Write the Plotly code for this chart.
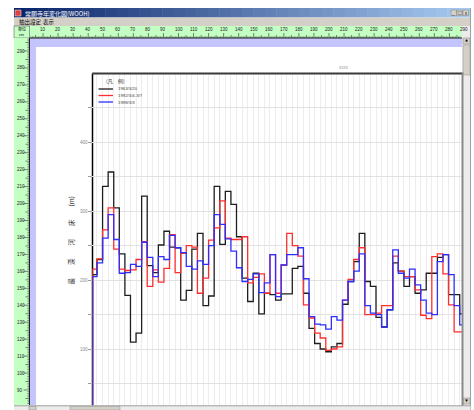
import plotly.graph_objects as go

W, H = 474, 410

# ---------------- data ----------------
series_names = ["1963/3/20", "1992/3/4-3/7", "1998/3/3"]
series_colors = ["#1e1e1e", "#ff2e2e", "#2e2eff"]

black_vals = [208, 230, 336, 357, 305, 238, 178, 110, 123, 322, 221, 211, 251, 271, 248, 247,
              171, 185, 245, 268, 163, 177, 336, 252, 329, 310, 263, 203, 169, 210, 151, 181,
              179, 171, 180, 180, 217, 220, 181, 130, 108, 100, 96, 103, 108, 165, 198, 227,
              268, 198, 191, 146, 132, 157, 225, 213, 191, 205, 181, 186, 210, 210, 233, 237,
              179, 179, 151]
red_vals = [216, 231, 273, 305, 245, 216, 214, 215, 230, 256, 191, 215, 197, 217, 266, 211,
            239, 250, 248, 181, 203, 258, 276, 315, 261, 259, 259, 263, 196, 204, 209, 181,
            237, 181, 222, 268, 250, 235, 164, 145, 123, 116, 98, 100, 103, 171, 201, 230,
            247, 150, 150, 152, 163, 163, 235, 213, 205, 205, 186, 149, 144, 234, 238, 209,
            164, 125, 125]
blue_vals = [205, 225, 261, 295, 259, 210, 211, 223, 220, 255, 233, 205, 234, 230, 265, 247,
             240, 220, 216, 228, 223, 250, 295, 281, 260, 242, 218, 198, 201, 209, 182, 196,
             237, 176, 222, 237, 237, 247, 202, 147, 136, 135, 129, 147, 142, 171, 198, 213,
             238, 163, 152, 150, 132, 157, 244, 210, 203, 216, 193, 171, 152, 150, 227, 237,
             208, 163, 135]
all_series = [black_vals, red_vals, blue_vals]

x_start = -0.8           # first (partial) section start
x_axis_min = -0.84       # left edge of the visible axis
x_end = 65.5             # right edge of the visible (clipped) axis
y_min, y_max = 18, 500
y_tick_vals = [50, 100, 150, 200, 250, 300, 350, 400, 450]
y_tick_text = ["", "100", "", "200", "", "300", "", "400", ""]

top_ruler_labels = list(range(10, 300, 10))
left_ruler_labels = list(range(290, 80, -10))

title_text = "常願寺年変化図(WOOH)"
menu_items = ["抽出設定", "表示"]
y_title = "最　　深　　河　　床　　(m)"
legend_head = "(凡　例)"
chart_title = "xxxx"


# ---------------- helpers ----------------
def px(x):
    return x / W


def py(y):
    return 1 - y / H


shapes = []
annotations = []


def rect(x0, y0, x1, y1, fill, line=None, lw=0, layer="below"):
    shapes.append(dict(type="rect", xref="paper", yref="paper",
                       x0=px(x0), x1=px(x1), y0=py(y0), y1=py(y1),
                       fillcolor=fill, line=dict(width=lw, color=line or fill),
                       layer=layer))


def hline(x0, x1, y, color, w=1, layer="above"):
    shapes.append(dict(type="line", xref="paper", yref="paper",
                       x0=px(x0), x1=px(x1), y0=py(y), y1=py(y),
                       line=dict(color=color, width=w), layer=layer))


def vline(x, y0, y1, color, w=1, layer="above"):
    shapes.append(dict(type="line", xref="paper", yref="paper",
                       x0=px(x), x1=px(x), y0=py(y0), y1=py(y1),
                       line=dict(color=color, width=w), layer=layer))


def text(x, y, s, size=5, color="#000", xanchor="left", font="Noto Sans CJK JP", angle=0):
    annotations.append(dict(xref="paper", yref="paper", x=px(x), y=py(y), text=s,
                            showarrow=False, xanchor=xanchor, yanchor="middle",
                            textangle=angle,
                            font=dict(size=size, color=color, family=font)))


# ---------------- window chrome ----------------
n = 40
c0 = (10, 36, 106)
c1 = (166, 202, 240)
tb_x0, tb_x1 = 14, 470
for i in range(n):
    t = i / (n - 1)
    col = "rgb(%d,%d,%d)" % tuple(int(c0[k] + (c1[k] - c0[k]) * t) for k in range(3))
    xa = tb_x0 + (tb_x1 - tb_x0) * i / n
    xb = tb_x0 + (tb_x1 - tb_x0) * (i + 1) / n + 0.5
    rect(xa, 8, xb, 17.5, col)
rect(15, 10, 21, 16, "#e04040", line="#ffffff", lw=0.5)
text(23, 13, title_text, size=6, color="#ffffff")
for i, s in enumerate(["_", "□", "x"]):
    bx = 451 + i * 6
    rect(bx, 10, bx + 5.5, 15.5, "#d4d0c8", line="#808080", lw=0.5)
    text(bx + 2.75, 12.8, s, size=4, color="#000", xanchor="center")

# menu bar
rect(14, 17.5, 470, 26, "#d4d0c8")
text(17, 21.5, menu_items[0], size=5.5, color="#000")
text(41, 21.5, menu_items[1], size=5.5, color="#000")

# top ruler
rect(14, 26, 462, 38, "#c4ffc4")
rect(14, 26, 29.5, 38, "#c4ffc4", line="#606060", lw=0.6)
text(21.5, 29, "単位", size=4, color="#000", xanchor="center")
text(21.5, 34.5, "cm", size=3.5, color="#000", xanchor="center")
hline(29.5, 462, 38, "#202020", 1)

path = ""
for v in range(0, 292):
    x = 28 + 1.505 * v
    if x < 30 or x > 461:
        continue
    L = 5 if v % 10 == 0 else (3 if v % 5 == 0 else 1.5)
    path += "M%.5f,%.5f L%.5f,%.5f " % (px(x), py(38), px(x), py(38 - L))
shapes.append(dict(type="path", xref="paper", yref="paper", path=path,
                   line=dict(color="#303030", width=0.6), layer="above"))
for v in top_ruler_labels:
    x = 28 + 1.505 * v
    text(x, 29.5, str(v), size=4.5, color="#222", xanchor="center", font="Liberation Sans")

# left ruler
rect(14, 38, 29.5, 405, "#c4ffc4")
vline(29.5, 38, 405, "#202020", 1)
path = ""
for v in range(80, 300):
    y = 51 + (290 - v) * 1.695
    if y < 39 or y > 404:
        continue
    L = 6 if v % 10 == 0 else (4 if v % 5 == 0 else 2)
    path += "M%.5f,%.5f L%.5f,%.5f " % (px(29.5), py(y), px(29.5 - L), py(y))
shapes.append(dict(type="path", xref="paper", yref="paper", path=path,
                   line=dict(color="#303030", width=0.6), layer="above"))
for v in left_ruler_labels:
    y = 51 + (290 - v) * 1.695
    if 40 < y < 403:
        text(15.3, y, str(v), size=4.5, color="#222", font="Liberation Sans")

# lavender margins and white page
rect(29.5, 38, 462, 47, "#c4c4ff")
rect(29.5, 38, 36, 405, "#c4c4ff")
rect(36, 47, 462, 405, "#ffffff")

# ---------------- chart ----------------
PL, PR, PT, PB = 92.3, 462.5, 73.5, 405.5

# left axis line (below traces so the blue start line shows over it)
vline(PL + 0.2, PT, PB, "#000000", 1.5, layer="below")

# vertical scrollbar
rect(462, 26, 470.5, 405, "#ececec", layer="above")
rect(463, 38, 470, 44, "#d4d0c8", line="#808080", lw=0.5, layer="above")
text(466.5, 41, "▲", size=3, color="#000", xanchor="center")
rect(463, 45, 470, 75, "#d4d0c8", line="#909090", lw=0.5, layer="above")
rect(463, 398, 470, 404, "#d4d0c8", line="#808080", lw=0.5, layer="above")
text(466.5, 401, "▼", size=3, color="#000", xanchor="center")
vline(470.5, 8, 410, "#a0a0a0", 1)

# horizontal scrollbar
rect(14, 405.5, 470.5, 410, "#ececec", layer="above")
hline(14, 470.5, 405.8, "#a0a0a0", 1)
rect(29, 406.5, 36, 410, "#d4d0c8", line="#808080", lw=0.5, layer="above")
rect(70, 406.5, 120, 410, "#d4d0c8", line="#909090", lw=0.5, layer="above")

fig = go.Figure()
for name, vals, col in zip(series_names, all_series, series_colors):
    xs = [x_start, x_start] + list(range(0, len(vals)))
    ys = [0] + vals + [vals[-1]]
    fig.add_trace(go.Scatter(x=xs, y=ys, mode="lines", name=name,
                             line=dict(shape="hv", color=col, width=1.3),
                             showlegend=False, hoverinfo="skip"))

# frame lines
hline(PL, PR, PT, "#3a3a3a", 2)
vline(PR, PT - 1, PB, "#8a8a8a", 2)

# title
text((PL + PR) / 2 + 67, 67.5, chart_title, size=4.5, color="#999", xanchor="center",
     font="Liberation Sans")

# legend
text(104, 81.5, legend_head, size=5, color="#333")
for i, (name, col) in enumerate(zip(series_names, series_colors)):
    yy = 89 + i * 6.5
    hline(98.5, 113, yy, col, 1.3)
    text(115.5, yy, name, size=4.3, color="#444", font="Liberation Sans")

# y title
text(70.5, 241, y_title, size=6.5, color="#333", xanchor="center", angle=-90)

fig.update_layout(
    width=W, height=H,
    margin=dict(l=0, r=0, t=0, b=0, pad=0),
    paper_bgcolor="#ffffff",
    plot_bgcolor="rgba(0,0,0,0)",
    shapes=shapes, annotations=annotations,
    showlegend=False,
    xaxis=dict(domain=[PL / W, PR / W], range=[x_axis_min, x_end], dtick=1, tick0=0,
               showticklabels=False, ticks="", gridcolor="#ededed", gridwidth=1,
               zeroline=False, showline=False, fixedrange=True),
    yaxis=dict(domain=[1 - PB / H, 1 - PT / H], range=[y_min, y_max],
               tickvals=y_tick_vals, ticktext=y_tick_text,
               ticks="outside", ticklen=3, tickcolor="#999", tickwidth=0.6,
               tickfont=dict(size=4.5, color="#888", family="Liberation Sans"),
               gridcolor="#e2e2e2", gridwidth=1, zeroline=False,
               showline=False, fixedrange=True),
)

fig.write_html("out.html", config={"displayModeBar": False},
               post_script="document.body.style.margin='0';")
